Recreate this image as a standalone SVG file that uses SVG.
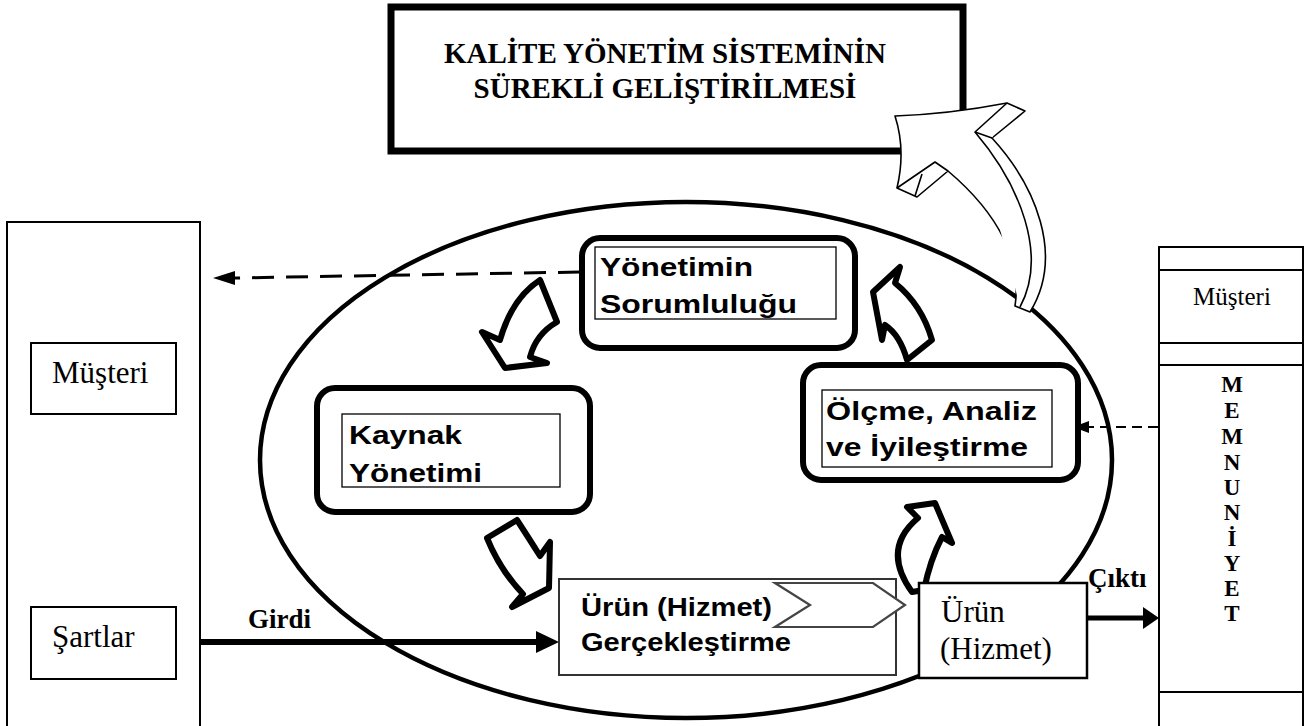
<svg xmlns="http://www.w3.org/2000/svg" width="1309" height="726" viewBox="0 0 1309 726">
<style>
.serif{font-family:"Liberation Serif","Times New Roman",serif;fill:#000}
.sans{font-family:"Liberation Sans",Arial,sans-serif;font-weight:bold;font-size:26px;fill:#000}
.b{font-weight:bold}
.thin{fill:#fff;stroke:#000;stroke-width:2}
.rbox{fill:#fff;stroke:#000;stroke-width:6}
.ibox{fill:#fff;stroke:#000;stroke-width:1.3}
.blk{fill:#fff;stroke:#000;stroke-width:6;stroke-linejoin:round}
.hollow{fill:#fff;stroke:#000;stroke-width:1.6;stroke-linejoin:round}
</style>
<rect width="1309" height="726" fill="#fff"/>

<g id="cycle">
<ellipse cx="686" cy="460" rx="426" ry="258" fill="none" stroke="#000" stroke-width="4.5"/>
</g>

<g id="title">
<rect x="391" y="7" width="572" height="144" fill="#fff" stroke="#000" stroke-width="7"/>
<text class="serif b" x="665" y="63" font-size="29" text-anchor="middle">KALİTE YÖNETİM SİSTEMİNİN</text>
<text class="serif b" x="665" y="98" font-size="29" text-anchor="middle">SÜREKLİ GELİŞTİRİLMESİ</text>
</g>

<g id="connectors">
<!-- big hollow arrow -->
<path class="hollow" d="M895,116 Q950,114 1007,103 L1025,111 L992,138 C1035,185 1065,255 1030,312 L1015,306 C1022,262 1000,215 948,171 L917,197 L897,188 Q906,150 895,116 Z"/>
<path class="hollow" fill="none" d="M975,132 C1020,185 1048,255 1020,307"/>
<path class="hollow" fill="none" d="M1007,103 L975,132 L992,138"/>
<path class="hollow" fill="none" d="M897,188 L935,162 L948,171 M922,174 L915,196"/>
<!-- dashed arrows -->
<path d="M580,272 L233,278" stroke="#000" stroke-width="3" stroke-dasharray="22 12" fill="none"/>
<polygon points="213,278 235,271 235,285" fill="#000"/>
<path d="M1158,427 L1088,427" stroke="#000" stroke-width="2" stroke-dasharray="10 6" fill="none"/>
<polygon points="1073,427 1089,421 1089,433" fill="#000"/>
<!-- Girdi -->
<line x1="176" y1="642" x2="538" y2="642" stroke="#000" stroke-width="6"/>
<polygon points="559,642 536,631 536,653" fill="#000"/>
<text class="serif b" x="248" y="628" font-size="27">Girdi</text>
<!-- Çıktı -->
<line x1="1087" y1="618" x2="1144" y2="618" stroke="#000" stroke-width="5"/>
<polygon points="1159,618 1143,607 1143,629" fill="#000"/>
<text class="serif b" x="1088" y="587" font-size="27">Çıktı</text>
<!-- block arrows -->
<path class="blk" d="M540,280 L557,322 Q536,334 530,357 L547,363 L505,368 L482,332 L500,340 Q512,298 540,280 Z"/>
<path class="blk" d="M487,538 L517,520 Q530,540 540,556 L550,542 L549,588 L512,607 L523,594 Q500,570 487,538 Z"/>
<path class="blk" d="M907,507 L935,503 L952,543 L942,537 Q930,560 924,590 L912,592 Q881,549 918,518 Z"/>
<path class="blk" d="M900,267 L895,283 Q922,305 932,340 L907,360 Q900,335 885,325 L882,340 L873,292 Z"/>
</g>

<g id="left-panel">
<rect x="7" y="222" width="193" height="510" class="thin"/>
</g>
<g id="musteri-left">
<rect x="31" y="343" width="145" height="71" class="thin"/>
<text class="serif" x="52" y="383" font-size="31">Müşteri</text>
</g>
<g id="sartlar">
<rect x="31" y="607" width="145" height="72" class="thin"/>
<text class="serif" x="52" y="647" font-size="31">Şartlar</text>
</g>

<g id="yonetim">
<rect x="582" y="238" width="273" height="110" rx="18" class="rbox"/>
<rect x="595" y="247" width="241" height="72" class="ibox"/>
<text class="sans" x="600" y="276" textLength="153" lengthAdjust="spacingAndGlyphs">Yönetimin</text>
<text class="sans" x="600" y="313" textLength="197" lengthAdjust="spacingAndGlyphs">Sorumluluğu</text>
</g>

<g id="kaynak">
<rect x="317" y="388" width="273" height="124" rx="18" class="rbox"/>
<rect x="342" y="414" width="218" height="73" class="ibox"/>
<text class="sans" x="349" y="444" textLength="113" lengthAdjust="spacingAndGlyphs">Kaynak</text>
<text class="sans" x="349" y="482" textLength="133" lengthAdjust="spacingAndGlyphs">Yönetimi</text>
</g>

<g id="olcme">
<rect x="803" y="365" width="275" height="115" rx="18" class="rbox"/>
<rect x="822" y="390" width="230" height="77" class="ibox"/>
<text class="sans" x="826" y="420" textLength="211" lengthAdjust="spacingAndGlyphs">Ölçme, Analiz</text>
<text class="sans" x="826" y="456" textLength="202" lengthAdjust="spacingAndGlyphs">ve İyileştirme</text>
</g>

<g id="gerceklestirme">
<rect x="559" y="579" width="337" height="96" fill="#fff" stroke="#333" stroke-width="2"/>
<text class="sans" x="581" y="616" textLength="191" lengthAdjust="spacingAndGlyphs">Ürün (Hizmet)</text>
<text class="sans" x="581" y="651" textLength="210" lengthAdjust="spacingAndGlyphs">Gerçekleştirme</text>
<polygon points="775,583 873,583 905,605 873,627 775,627 810,605" fill="#fff" stroke="#444" stroke-width="2.2"/>
</g>

<g id="urun">
<rect x="919" y="583" width="168" height="95" fill="#fff" stroke="#000" stroke-width="2.5"/>
<text class="serif" x="941" y="622" font-size="31">Ürün</text>
<text class="serif" x="940" y="659" font-size="31">(Hizmet)</text>
</g>

<g id="right-panel">
<rect x="1159" y="247" width="144" height="485" class="thin"/>
<line x1="1159" y1="270" x2="1303" y2="270" stroke="#000" stroke-width="2"/>
<line x1="1159" y1="343" x2="1303" y2="343" stroke="#000" stroke-width="2"/>
<line x1="1159" y1="365" x2="1303" y2="365" stroke="#000" stroke-width="2"/>
<line x1="1159" y1="692" x2="1303" y2="692" stroke="#000" stroke-width="2"/>
<text class="serif" x="1232" y="305" font-size="25" text-anchor="middle">Müşteri</text>
<g class="serif b" font-size="23" text-anchor="middle">
<text x="1232" y="392">M</text>
<text x="1232" y="418">E</text>
<text x="1232" y="444">M</text>
<text x="1232" y="470">N</text>
<text x="1232" y="495">U</text>
<text x="1232" y="520">N</text>
<text x="1232" y="546">İ</text>
<text x="1232" y="571">Y</text>
<text x="1232" y="596">E</text>
<text x="1232" y="621">T</text>
</g>
</g>
</svg>
